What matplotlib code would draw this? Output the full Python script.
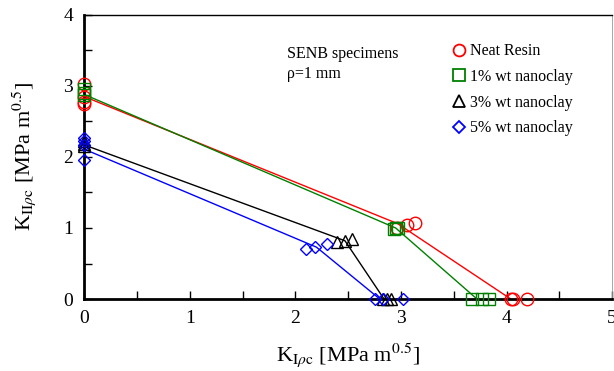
import matplotlib
matplotlib.use("Agg")
import matplotlib.pyplot as plt
from matplotlib.lines import Line2D

plt.rcParams['font.family'] = ['Liberation Serif', 'DejaVu Serif']
plt.rcParams['mathtext.fontset'] = 'stix'

# Series labels
labels = ["Neat Resin", "1% wt nanoclay", "3% wt nanoclay", "5% wt nanoclay"]

# Experimental points (K_I, K_II)
neat_ki = [0, 0, 0, 0, 2.96, 3.06, 3.13, 4.04, 4.06, 4.19]
neat_kii = [3.02, 2.85, 2.78, 2.75, 1.0, 1.04, 1.07, 0, 0, 0]
c1_ki = [0, 0, 0, 2.93, 2.95, 2.97, 3.67, 3.77, 3.83]
c1_kii = [2.95, 2.90, 2.87, 0.99, 1.0, 1.0, 0, 0, 0]
c3_ki = [0, 0, 0, 2.39, 2.47, 2.54, 2.83, 2.87, 2.91]
c3_kii = [2.22, 2.18, 2.15, 0.80, 0.82, 0.85, 0, 0, 0]
c5_ki = [0, 0, 0, 0, 2.10, 2.19, 2.30, 2.75, 2.83, 3.02]
c5_kii = [2.27, 2.22, 2.17, 1.96, 0.70, 0.73, 0.77, 0, 0, 0]

# Mean envelope lines
neat_line_ki = [0, 2.97, 4.04]
neat_line_kii = [2.85, 1.06, 0]
c1_line_ki = [0, 2.95, 3.72]
c1_line_kii = [2.88, 1.0, 0]
c3_line_ki = [0, 2.47, 2.84]
c3_line_kii = [2.17, 0.82, 0]
c5_line_ki = [0, 2.20, 2.80]
c5_line_kii = [2.11, 0.73, 0]

fig = plt.figure(figsize=(6.14, 3.71), dpi=100)
ax = fig.add_axes([0.137, 0.194, 0.860, 0.766])

series = [
    (neat_ki, neat_kii, neat_line_ki, neat_line_kii, 'red', 'o', 9),
    (c1_ki, c1_kii, c1_line_ki, c1_line_kii, 'green', 's', 9),
    (c3_ki, c3_kii, c3_line_ki, c3_line_kii, 'black', '^', 9),
    (c5_ki, c5_kii, c5_line_ki, c5_line_kii, 'blue', 'D', 6.5),
]
handles = []
for (kx, ky, lx, ly, col, mk, ms), lab in zip(series, labels):
    ax.plot(lx, ly, color=col, lw=1.0, zorder=2)
    ax.plot(kx, ky, linestyle='none', marker=mk, ms=ms, mfc='none', mec=col, mew=1.0,
            zorder=3, clip_on=False)
    handles.append(Line2D([], [], linestyle='none', marker=mk, ms=ms * 0.95, mfc='none',
                          mec=col, mew=1.3, label=lab))

ax.set_xlim(0, 5)
ax.set_ylim(0, 4)
ax.set_xticks([0, 1, 2, 3, 4, 5])
ax.set_yticks([0, 1, 2, 3, 4])
ax.set_xticks([0.5, 1.5, 2.5, 3.5, 4.5], minor=True)
ax.set_yticks([0.5, 1.5, 2.5, 3.5], minor=True)
ax.tick_params(which='both', direction='in', labelsize=14, pad=8)
ax.tick_params(which='major', length=6, width=1.0)
ax.tick_params(which='minor', length=6, width=1.0)
ax.spines['left'].set_linewidth(2.0)
ax.spines['bottom'].set_linewidth(2.0)
ax.spines['top'].set_linewidth(1.0)
ax.spines['right'].set_linewidth(0.6)
ax.spines['right'].set_color('#999999')

ax.set_xlabel(r'K$_{\mathrm{I}\rho\mathrm{c}}$ [MPa m$^{0.5}$]', fontsize=16, labelpad=10)
ax.set_ylabel(r'K$_{\mathrm{II}\rho\mathrm{c}}$ [MPa m$^{0.5}$]', fontsize=16, labelpad=18)

ax.text(0.384, 0.862, 'SENB specimens', transform=ax.transAxes, fontsize=11.5, va='center')
ax.text(0.384, 0.791, r'ρ=1 mm', transform=ax.transAxes, fontsize=11.5, va='center')

leg = ax.legend(handles=handles, loc='upper left', bbox_to_anchor=(0.686, 0.922),
                frameon=False, fontsize=11.5, handlelength=0.8, handletextpad=0.3,
                labelspacing=0.6, borderaxespad=0)

fig.savefig('out.png', dpi=100)
